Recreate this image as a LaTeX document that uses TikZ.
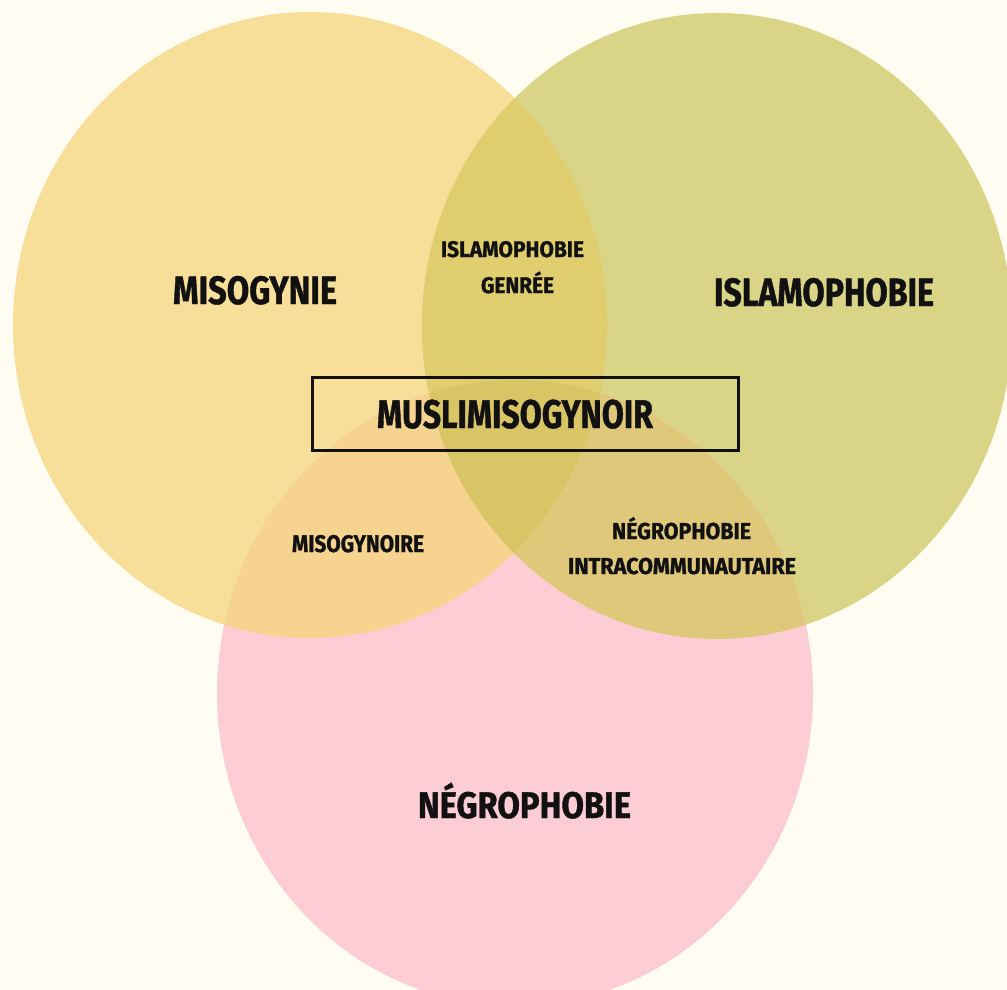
\documentclass[tikz,border=0pt]{standalone}
\usepackage{fontspec}
\setmainfont{Fira Sans}[BoldFeatures={FakeBold=1.2}]
\usepackage{graphicx}
\definecolor{bgc}{HTML}{FFFCF1}
\definecolor{mcol}{HTML}{F7DF99}
\definecolor{icol}{HTML}{DAD487}
\definecolor{ncol}{HTML}{FDCDD6}
\definecolor{micol}{HTML}{DFCD6E}
\definecolor{mncol}{HTML}{F6D38E}
\definecolor{incol}{HTML}{DFC87A}
\definecolor{allcol}{HTML}{D9C565}
\definecolor{ink}{HTML}{111111}
\newcommand{\lbl}[3]{\resizebox{#1pt}{\height}{\fontsize{#2}{#2}\selectfont\bfseries #3}}
\begin{document}
\begin{tikzpicture}[x=1pt,y=-1pt,
  lab/.style={anchor=base, inner sep=0pt, text=ink},
  boxstyle/.style={draw=ink, line width=3pt, minimum width=426pt, minimum height=73pt, inner sep=0pt}]
\useasboundingbox (0,0) rectangle (1007,990);
\clip (0,0) rectangle (1007,990);
\fill[bgc] (0,0) rectangle (1007,990);
% circles
\def\M{(310,325) ellipse [x radius=297pt, y radius=313pt]}
\def\I{(717,326) ellipse [x radius=295pt, y radius=313pt]}
\def\N{(515,693) ellipse [x radius=298pt, y radius=313pt]}
\fill[mcol] \M;
\fill[icol] \I;
\fill[ncol] \N;
\begin{scope}\clip \M; \fill[micol] \I; \end{scope}
\begin{scope}\clip \M; \fill[mncol] \N; \end{scope}
\begin{scope}\clip \I; \fill[incol] \N; \end{scope}
\begin{scope}\clip \M; \clip \I; \fill[allcol] \N; \end{scope}
% central box
\node[boxstyle] (box) at (525,413.5) {};
% labels
\node[lab] (misog) at (255,304) {\lbl{164}{39.5}{MISOGYNIE}};
\node[lab] (islam) at (824,306) {\lbl{220}{39.5}{ISLAMOPHOBIE}};
\node[lab] (negro) at (524.5,818) {\lbl{213}{37}{NÉGROPHOBIE}};
\node[lab] (muslim) at (515,428) {\lbl{276}{40}{MUSLIMISOGYNOIR}};
\node[lab] (ig1) at (512.5,257) {\lbl{143}{22.5}{ISLAMOPHOBIE}};
\node[lab] (ig2) at (517.5,293) {\lbl{73}{22.5}{GENRÉE}};
\node[lab] (ni1) at (681.5,539) {\lbl{139}{23}{NÉGROPHOBIE}};
\node[lab] (ni2) at (682,574) {\lbl{228}{23}{INTRACOMMUNAUTAIRE}};
\node[lab] (misnoir) at (358,552) {\lbl{132}{24}{MISOGYNOIRE}};
\end{tikzpicture}
\end{document}
